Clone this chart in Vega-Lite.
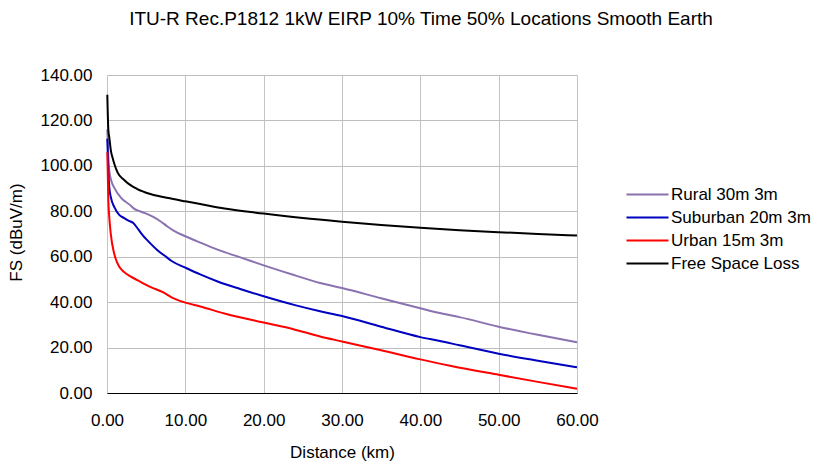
{
  "$schema": "https://vega.github.io/schema/vega-lite/v6.json",
  "width": 470,
  "height": 318,
  "autosize": {"type": "none"},
  "padding": {"left": 107, "top": 75, "right": 249, "bottom": 72},
  "background": "white",
  "title": {"text": "ITU-R Rec.P1812 1kW EIRP 10% Time 50% Locations Smooth Earth", "anchor": "middle", "frame": "group", "dx": 79, "offset": 37, "fontSize": 19, "font": "Liberation Sans", "fontWeight": "normal", "color": "#000000"},
  "config": {"view": {"stroke": null}, "font": "Liberation Sans"},
  "data": {"values": [
    {"s": "Rural 30m 3m", "d": 0.04, "v": 116},
    {"s": "Rural 30m 3m", "d": 0.17, "v": 104},
    {"s": "Rural 30m 3m", "d": 0.3, "v": 97.6},
    {"s": "Rural 30m 3m", "d": 0.51, "v": 93.9},
    {"s": "Rural 30m 3m", "d": 0.94, "v": 90.3},
    {"s": "Rural 30m 3m", "d": 1.8, "v": 85.9},
    {"s": "Rural 30m 3m", "d": 3.0, "v": 82.6},
    {"s": "Rural 30m 3m", "d": 3.36, "v": 81.4},
    {"s": "Rural 30m 3m", "d": 4.2, "v": 80.0},
    {"s": "Rural 30m 3m", "d": 5.0, "v": 79.0},
    {"s": "Rural 30m 3m", "d": 5.9, "v": 77.5},
    {"s": "Rural 30m 3m", "d": 6.85, "v": 75.5},
    {"s": "Rural 30m 3m", "d": 7.6, "v": 73.6},
    {"s": "Rural 30m 3m", "d": 8.5, "v": 71.5},
    {"s": "Rural 30m 3m", "d": 10, "v": 69.0},
    {"s": "Rural 30m 3m", "d": 11.9, "v": 66.2},
    {"s": "Rural 30m 3m", "d": 14.2, "v": 63.0},
    {"s": "Rural 30m 3m", "d": 17.2, "v": 59.5},
    {"s": "Rural 30m 3m", "d": 20, "v": 56.2},
    {"s": "Rural 30m 3m", "d": 24, "v": 51.8},
    {"s": "Rural 30m 3m", "d": 27.2, "v": 48.4},
    {"s": "Rural 30m 3m", "d": 30, "v": 46.2},
    {"s": "Rural 30m 3m", "d": 35, "v": 41.7},
    {"s": "Rural 30m 3m", "d": 40, "v": 37.3},
    {"s": "Rural 30m 3m", "d": 42.5, "v": 35.2},
    {"s": "Rural 30m 3m", "d": 45, "v": 33.4},
    {"s": "Rural 30m 3m", "d": 50, "v": 29.2},
    {"s": "Rural 30m 3m", "d": 55, "v": 25.6},
    {"s": "Rural 30m 3m", "d": 60, "v": 22.3},
    {"s": "Suburban 20m 3m", "d": 0.04, "v": 112},
    {"s": "Suburban 20m 3m", "d": 0.17, "v": 97.6},
    {"s": "Suburban 20m 3m", "d": 0.3, "v": 90.3},
    {"s": "Suburban 20m 3m", "d": 0.51, "v": 85.9},
    {"s": "Suburban 20m 3m", "d": 0.94, "v": 81.8},
    {"s": "Suburban 20m 3m", "d": 1.53, "v": 78.5},
    {"s": "Suburban 20m 3m", "d": 2.2, "v": 77.0},
    {"s": "Suburban 20m 3m", "d": 2.8, "v": 75.8},
    {"s": "Suburban 20m 3m", "d": 3.36, "v": 74.8},
    {"s": "Suburban 20m 3m", "d": 4.0, "v": 72.0},
    {"s": "Suburban 20m 3m", "d": 4.6, "v": 69.3},
    {"s": "Suburban 20m 3m", "d": 5.1, "v": 67.4},
    {"s": "Suburban 20m 3m", "d": 6.4, "v": 63.0},
    {"s": "Suburban 20m 3m", "d": 7.6, "v": 59.8},
    {"s": "Suburban 20m 3m", "d": 8.3, "v": 58.0},
    {"s": "Suburban 20m 3m", "d": 10, "v": 55.2},
    {"s": "Suburban 20m 3m", "d": 11.9, "v": 52.2},
    {"s": "Suburban 20m 3m", "d": 14.2, "v": 49.0},
    {"s": "Suburban 20m 3m", "d": 17, "v": 45.8},
    {"s": "Suburban 20m 3m", "d": 20, "v": 42.6},
    {"s": "Suburban 20m 3m", "d": 24, "v": 38.7},
    {"s": "Suburban 20m 3m", "d": 27.2, "v": 36.0},
    {"s": "Suburban 20m 3m", "d": 30, "v": 33.9},
    {"s": "Suburban 20m 3m", "d": 35, "v": 29.2},
    {"s": "Suburban 20m 3m", "d": 40, "v": 24.6},
    {"s": "Suburban 20m 3m", "d": 42.5, "v": 22.9},
    {"s": "Suburban 20m 3m", "d": 45, "v": 21.0},
    {"s": "Suburban 20m 3m", "d": 50, "v": 17.3},
    {"s": "Suburban 20m 3m", "d": 55, "v": 14.2},
    {"s": "Suburban 20m 3m", "d": 60, "v": 11.3},
    {"s": "Urban 15m 3m", "d": 0.04, "v": 106},
    {"s": "Urban 15m 3m", "d": 0.17, "v": 85},
    {"s": "Urban 15m 3m", "d": 0.3, "v": 77},
    {"s": "Urban 15m 3m", "d": 0.47, "v": 70.4},
    {"s": "Urban 15m 3m", "d": 0.9, "v": 61.6},
    {"s": "Urban 15m 3m", "d": 1.32, "v": 57.2},
    {"s": "Urban 15m 3m", "d": 2.2, "v": 53.2},
    {"s": "Urban 15m 3m", "d": 3.0, "v": 51.3},
    {"s": "Urban 15m 3m", "d": 3.87, "v": 49.7},
    {"s": "Urban 15m 3m", "d": 5.6, "v": 46.6},
    {"s": "Urban 15m 3m", "d": 7.06, "v": 44.5},
    {"s": "Urban 15m 3m", "d": 8.3, "v": 42.0},
    {"s": "Urban 15m 3m", "d": 10, "v": 39.8},
    {"s": "Urban 15m 3m", "d": 11.9, "v": 38.1},
    {"s": "Urban 15m 3m", "d": 15, "v": 35.0},
    {"s": "Urban 15m 3m", "d": 20, "v": 31.0},
    {"s": "Urban 15m 3m", "d": 23.8, "v": 28.1},
    {"s": "Urban 15m 3m", "d": 27.2, "v": 24.9},
    {"s": "Urban 15m 3m", "d": 30, "v": 22.7},
    {"s": "Urban 15m 3m", "d": 35, "v": 18.8},
    {"s": "Urban 15m 3m", "d": 40, "v": 14.8},
    {"s": "Urban 15m 3m", "d": 43.8, "v": 12.0},
    {"s": "Urban 15m 3m", "d": 50, "v": 8.0},
    {"s": "Urban 15m 3m", "d": 55, "v": 4.9},
    {"s": "Urban 15m 3m", "d": 60, "v": 1.9},
    {"s": "Free Space Loss", "d": 0.04, "v": 131.3},
    {"s": "Free Space Loss", "d": 0.17, "v": 115.9},
    {"s": "Free Space Loss", "d": 0.3, "v": 112.3},
    {"s": "Free Space Loss", "d": 0.51, "v": 106.4},
    {"s": "Free Space Loss", "d": 0.72, "v": 103.5},
    {"s": "Free Space Loss", "d": 0.94, "v": 100.8},
    {"s": "Free Space Loss", "d": 1.36, "v": 97.0},
    {"s": "Free Space Loss", "d": 2.19, "v": 93.8},
    {"s": "Free Space Loss", "d": 3.0, "v": 91.5},
    {"s": "Free Space Loss", "d": 3.87, "v": 89.8},
    {"s": "Free Space Loss", "d": 5.55, "v": 87.6},
    {"s": "Free Space Loss", "d": 8.3, "v": 85.5},
    {"s": "Free Space Loss", "d": 10, "v": 84.4},
    {"s": "Free Space Loss", "d": 11.9, "v": 83.2},
    {"s": "Free Space Loss", "d": 15, "v": 81.2},
    {"s": "Free Space Loss", "d": 20, "v": 79.0},
    {"s": "Free Space Loss", "d": 25, "v": 77.0},
    {"s": "Free Space Loss", "d": 30, "v": 75.4},
    {"s": "Free Space Loss", "d": 35, "v": 74.0},
    {"s": "Free Space Loss", "d": 40, "v": 72.8},
    {"s": "Free Space Loss", "d": 45, "v": 71.7},
    {"s": "Free Space Loss", "d": 50, "v": 70.8},
    {"s": "Free Space Loss", "d": 55, "v": 70.0},
    {"s": "Free Space Loss", "d": 60, "v": 69.3}
  ]},
  "mark": {"type": "line", "strokeWidth": 2, "interpolate": "monotone"},
  "encoding": {
    "x": {"field": "d", "type": "quantitative", "scale": {"domain": [0, 60], "nice": false},
      "axis": {"title": "Distance (km)", "format": ".2f", "values": [0, 10, 20, 30, 40, 50, 60], "grid": true, "gridColor": "#c4c4c4", "domainColor": "#000000", "ticks": false, "labelPadding": 19, "labelFontSize": 17, "labelFlush": false, "labelColor": "#000000", "titleFontSize": 17, "titleFontWeight": "normal", "titleColor": "#000000", "titleX": 235, "titleY": 59, "titleBaseline": "middle", "titleAlign": "center"}},
    "y": {"field": "v", "type": "quantitative", "scale": {"domain": [0, 140], "nice": false},
      "axis": {"title": "FS (dBuV/m)", "format": ".2f", "values": [0, 20, 40, 60, 80, 100, 120, 140], "grid": true, "gridColor": "#bdbdbd", "domain": false, "ticks": false, "labelPadding": 15, "labelFontSize": 17, "labelColor": "#000000", "titleFontSize": 17, "titleFontWeight": "normal", "titleColor": "#000000", "titleX": -91, "titleY": 157, "titleAngle": -90, "titleBaseline": "middle", "titleAlign": "center"}},
    "color": {"field": "s", "type": "nominal",
      "scale": {"domain": ["Rural 30m 3m", "Suburban 20m 3m", "Urban 15m 3m", "Free Space Loss"], "range": ["#8a72b0", "#0000c0", "#ff0000", "#000000"]},
      "legend": {"title": null, "orient": "none", "legendX": 529, "legendY": 108, "symbolType": "M-2,0L2,0", "symbolSize": 441, "symbolStrokeWidth": 2, "labelFontSize": 17, "labelOffset": 12, "rowPadding": 3, "labelColor": "#000000"}}
  }
}
